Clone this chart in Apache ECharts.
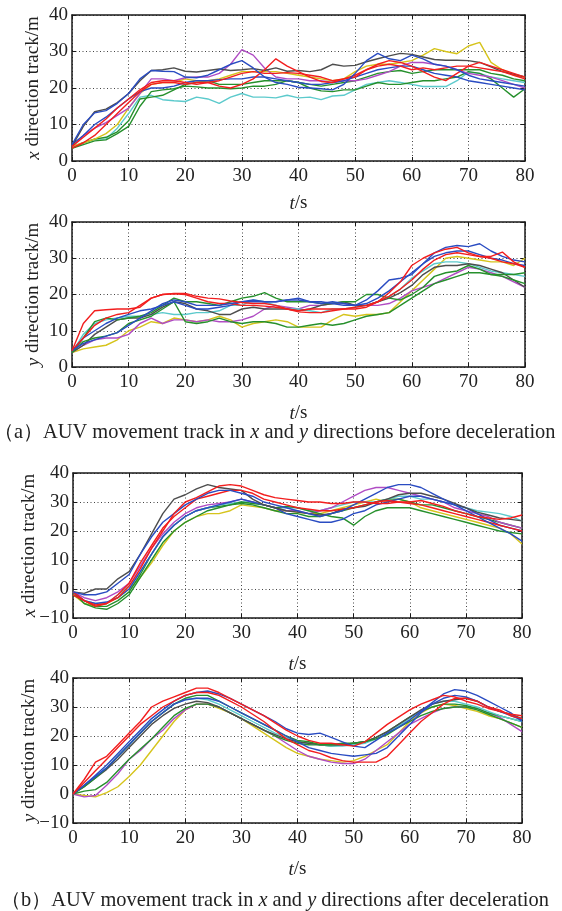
<!DOCTYPE html>
<html><head><meta charset="utf-8">
<script src="https://cdn.jsdelivr.net/npm/echarts@6/dist/echarts.min.js"></script>
<style>html,body{margin:0;padding:0;background:#fff}#c{width:562px;height:911px}</style>
</head><body><div id="c"></div>
<script>
// time samples (s)
const T = [0,2,4,6,8,10,12,14,16,18,20,22,24,26,28,30,32,34,36,38,40,42,44,46,48,50,52,54,56,58,60,62,64,66,68,70,72,74,76,78,80];
const xTicks = [0,10,20,30,40,50,60,70,80];
const yTicksTop = [0,10,20,30,40];
const yTicksBottom = [-10,0,10,20,30,40];

// ---- (a) x direction, before deceleration ----
const p1Gray = [4.0,9.5,13.5,14.2,16.0,18.5,22.0,24.8,25.0,25.5, 24.6,24.4,24.8,25.2,24.8,25.0,25.3,24.8,25.5,24.6, 24.8,24.5,25.0,26.5,26.0,26.2,27.2,28.0,28.8,29.5, 29.2,28.5,27.8,27.6,27.6,27.5,27.0,25.8,24.5,23.8, 23.0];
const p1Blue1 = [4.5,10.0,13.2,13.8,15.8,18.5,22.5,24.8,24.6,24.5, 23.0,22.8,23.5,25.0,26.5,27.5,25.5,23.0,21.5,21.0, 20.2,20.0,19.8,19.5,21.0,24.0,27.5,29.5,28.0,27.5, 29.0,28.0,26.5,26.0,25.0,23.5,22.5,22.0,21.5,21.0, 20.5];
const p1Magenta = [4.0,7.0,9.0,10.5,12.5,14.5,18.5,22.5,22.5,22.0, 22.8,23.0,23.0,24.0,26.5,30.5,29.0,25.5,23.0,22.5, 22.5,22.0,22.0,21.5,22.0,22.0,22.5,23.5,24.5,26.0, 27.0,27.0,26.5,26.0,25.0,24.0,23.5,23.0,22.0,21.0, 20.0];
const p1Red1 = [3.5,5.0,7.0,10.0,13.0,16.0,19.0,21.0,21.5,21.5, 21.0,21.5,21.5,20.5,20.0,21.0,22.5,25.0,28.0,26.0, 24.5,23.0,21.8,21.5,22.5,23.0,25.0,26.5,27.5,27.0, 26.0,24.5,23.0,22.0,24.0,26.0,27.0,26.0,25.0,24.0, 23.0];
const p1Red2 = [4.0,6.5,9.0,11.5,14.5,17.0,19.5,21.5,22.0,22.0, 21.5,21.0,21.5,22.0,23.0,24.0,24.5,24.0,24.0,24.2, 24.0,23.5,23.0,22.0,22.5,23.5,25.0,26.0,26.5,26.0, 25.0,25.5,25.0,25.5,26.0,26.0,25.5,25.0,24.5,23.5, 22.5];
const p1Yellow = [4.0,5.0,6.0,7.5,10.0,14.5,18.5,21.0,21.5,21.5, 22.5,22.0,22.0,22.5,23.5,24.5,24.5,24.5,24.5,24.0, 23.5,23.0,22.5,22.0,22.5,24.5,26.0,26.5,26.5,27.0, 27.5,29.0,30.8,30.0,29.4,31.5,32.5,27.0,25.0,23.5, 23.0];
const p1Cyan = [4.0,5.0,6.0,6.0,9.0,13.0,17.5,18.0,16.8,16.5, 16.3,17.5,17.0,15.8,17.5,18.5,17.5,17.5,17.3,18.0, 17.3,17.5,16.8,17.8,18.0,19.5,21.0,21.5,22.0,21.5, 21.0,20.4,20.4,20.4,22.0,24.3,24.0,23.0,22.5,22.0, 21.5];
const p1Green1 = [3.5,4.5,5.5,5.8,7.5,9.5,15.0,19.0,19.5,19.8, 20.5,20.3,20.0,20.0,19.8,20.0,20.5,20.5,21.0,22.0, 21.5,20.0,19.2,19.0,19.5,19.5,20.5,21.5,21.0,21.0, 21.5,22.0,22.0,22.5,23.0,24.5,24.0,22.5,20.0,17.5, 19.8];
const p1Green2 = [3.5,5.0,6.0,6.5,8.0,11.0,17.0,17.5,18.0,19.5, 21.0,21.5,22.0,21.0,21.0,21.0,21.5,22.0,22.0,22.0, 21.5,21.0,20.5,21.0,21.5,22.0,23.0,24.0,24.5,24.8, 24.0,24.5,25.0,25.0,25.0,25.0,25.0,24.0,23.5,22.5, 22.0];
const p1Blue2 = [4.5,7.0,10.0,12.0,14.5,17.0,19.0,20.0,20.0,20.5, 21.5,22.0,22.0,22.3,22.5,22.5,23.0,23.0,22.5,22.0, 21.5,21.0,21.0,21.5,22.0,23.0,24.0,25.0,25.5,26.0, 26.0,25.0,24.0,23.5,23.0,22.0,21.5,21.0,20.5,20.0, 19.5];

// ---- (a) y direction, before deceleration ----
const p2Red1 = [4.5,12.0,15.5,15.8,16.0,16.0,16.5,19.0,20.0,20.3, 20.3,19.5,19.0,18.8,18.2,17.8,17.5,17.5,17.0,16.0, 15.2,15.0,15.0,15.5,16.0,16.0,16.5,18.0,20.5,23.5, 28.0,30.0,31.5,32.5,33.0,31.5,30.5,30.5,31.7,29.0, 27.5];
const p2Red2 = [4.5,8.0,11.5,13.5,14.5,15.0,17.0,19.0,20.0,20.2, 20.0,19.0,18.0,17.5,17.5,17.0,17.0,16.8,16.5,16.0, 15.5,16.0,16.0,16.0,16.0,16.5,17.0,18.0,19.5,21.5, 24.0,27.0,29.5,31.0,31.5,31.0,30.5,30.0,29.0,28.5, 27.5];
const p2Blue1 = [4.5,6.5,7.5,8.5,9.5,11.5,13.5,15.5,17.5,18.5, 18.0,17.0,17.0,17.0,17.5,18.0,18.5,18.0,18.0,18.5, 19.0,18.0,17.5,18.0,17.5,17.0,18.5,21.0,24.0,24.5, 25.5,28.5,31.5,33.0,33.5,33.2,34.0,32.0,30.5,29.5, 29.0];
const p2Blue2 = [4.5,8.0,10.0,12.0,13.5,14.5,15.5,16.0,17.0,18.0, 17.0,16.0,16.0,16.5,17.0,18.0,18.0,18.0,18.0,18.5, 18.5,18.0,18.0,17.5,17.0,17.0,17.5,19.0,21.0,23.5, 26.0,28.5,30.5,31.5,32.0,32.0,31.0,30.0,29.5,28.5, 28.0];
const p2Gray = [4.0,6.0,9.0,11.0,13.0,13.5,13.5,14.5,16.5,18.0, 17.5,16.0,15.5,14.5,14.5,16.0,16.5,16.0,16.0,16.0, 15.5,16.0,17.0,17.5,18.0,17.0,17.0,18.0,19.0,20.5, 22.5,25.5,27.5,28.0,28.0,28.5,28.0,27.0,26.0,24.0, 22.0];
const p2Cyan = [4.0,9.0,12.0,13.0,13.5,14.0,14.0,14.5,15.0,14.5, 14.5,15.0,15.0,15.5,17.0,17.0,18.5,18.0,17.0,16.0, 16.0,15.5,15.0,16.0,16.0,16.5,17.0,18.0,19.5,21.5, 24.5,26.5,28.5,29.0,29.0,28.5,27.5,26.5,26.0,25.5, 25.0];
const p2Green1 = [4.0,8.0,12.5,13.5,13.0,13.5,14.0,15.0,17.0,19.0, 18.0,18.0,17.5,17.0,18.0,19.0,19.5,20.5,19.0,18.0, 18.0,18.0,17.5,17.5,18.0,18.0,20.0,20.0,19.0,18.5, 20.0,22.0,25.0,26.0,26.5,28.0,27.0,25.5,25.0,24.0, 23.0];
const p2Green2 = [4.0,7.0,8.0,8.5,9.5,12.0,13.0,14.0,16.0,18.0, 12.5,12.0,12.5,13.5,12.5,12.0,12.5,12.5,12.0,11.0, 11.0,11.5,12.0,11.5,12.0,13.0,14.0,14.5,15.0,17.0, 19.0,21.0,23.0,24.0,25.0,26.0,26.0,25.5,25.5,25.5, 26.0];
const p2Magenta = [4.0,6.0,7.5,8.0,8.0,9.0,12.0,13.5,12.0,13.0, 13.0,12.5,13.0,12.5,12.5,13.0,14.0,16.0,17.0,16.5, 16.0,17.0,17.0,17.5,17.5,17.0,17.0,17.0,17.5,19.0, 21.0,22.0,23.0,24.5,26.0,27.5,27.0,26.0,25.0,23.5, 22.0];
const p2Yellow = [4.0,5.0,5.5,6.0,7.5,10.0,11.0,12.5,12.0,13.5, 13.0,12.5,13.0,14.0,13.0,11.0,12.0,12.5,13.0,12.5, 11.0,11.0,11.0,13.0,14.5,14.0,14.5,14.5,15.0,18.0, 21.0,24.0,27.0,30.0,30.5,30.0,29.5,29.0,29.0,28.0, 30.0];

// ---- (b) x direction, after deceleration ----
const p3Gray = [-1.0,-1.5,0.0,0.0,3.5,6.0,12.0,19.0,26.0,31.0, 32.5,34.5,36.0,35.0,34.5,34.0,31.0,29.0,28.0,27.0, 26.5,26.0,25.5,26.0,27.5,28.0,28.5,30.0,31.0,32.5, 33.0,33.0,32.0,31.0,29.5,28.0,26.5,25.5,24.5,24.0, 23.5];
const p3Red1 = [-2.0,-4.0,-5.5,-5.0,-3.0,1.0,7.0,14.0,20.0,26.0, 30.0,31.5,33.5,35.5,36.0,35.5,34.0,32.5,31.5,31.0, 30.5,30.0,30.0,29.5,29.5,30.0,30.0,29.5,29.5,30.0, 30.0,30.5,29.5,28.5,27.0,26.0,25.0,24.5,24.0,24.5, 25.5];
const p3Red2 = [-1.0,-4.0,-6.0,-5.0,-2.0,2.0,9.0,15.0,21.0,25.0, 28.0,31.0,32.0,33.0,34.0,34.0,33.0,31.0,30.0,29.0, 28.0,27.5,27.0,27.0,27.5,28.0,29.0,30.0,30.5,30.0, 29.5,29.0,28.0,27.0,26.0,25.0,24.0,23.0,22.0,21.0, 20.0];
const p3Blue1 = [-1.0,-2.0,-2.0,-1.0,2.0,5.0,12.0,18.0,23.0,26.0, 29.0,31.0,33.0,34.0,34.0,33.0,32.0,30.0,29.0,28.0, 27.0,26.0,25.0,26.0,27.0,29.0,31.0,33.0,35.0,36.0, 36.0,35.0,33.0,31.0,29.0,27.0,25.0,23.0,21.0,19.0, 16.5];
const p3Blue2 = [-1.0,-4.0,-5.0,-4.5,-3.0,0.0,6.0,12.0,18.0,22.0, 25.0,27.0,28.0,29.0,30.0,31.0,30.0,29.0,28.0,26.0, 25.0,24.0,23.0,23.0,24.0,26.0,27.0,29.0,30.0,31.0, 32.0,32.0,31.0,30.0,29.0,28.0,26.0,24.0,22.0,21.0, 20.0];
const p3Magenta = [-1.0,-3.0,-4.0,-3.0,-1.0,2.0,8.0,14.0,19.0,23.0, 26.0,28.0,29.0,29.5,30.0,31.0,30.0,29.0,28.0,27.0, 27.0,26.0,27.0,28.0,30.0,32.0,34.0,35.0,35.0,34.0, 33.0,32.0,31.0,30.0,28.0,27.0,26.0,25.0,23.0,22.0, 21.0];
const p3Cyan = [-1.0,-4.0,-5.0,-5.0,-2.0,1.0,6.0,12.0,18.0,22.0, 25.0,27.0,28.0,29.0,29.5,30.0,30.0,29.0,28.0,28.0, 28.0,27.0,27.0,28.0,29.0,30.0,30.0,30.0,31.0,32.0, 32.0,31.0,31.0,30.0,29.0,28.0,27.0,26.5,26.0,25.0, 23.5];
const p3Green1 = [-1.0,-5.0,-6.5,-7.0,-5.0,-2.0,4.0,10.0,16.0,20.0, 23.0,25.0,27.0,28.0,29.0,30.0,29.5,29.0,28.0,28.5, 28.0,27.0,26.0,25.0,24.5,22.0,25.0,27.0,28.0,28.0, 28.0,27.0,26.0,25.0,24.0,23.0,22.0,21.0,20.0,19.5, 19.0];
const p3Green2 = [-2.0,-4.0,-6.0,-6.0,-4.0,-1.0,5.0,12.0,18.0,22.0, 25.0,27.0,28.0,28.5,29.0,29.5,29.0,28.0,27.0,26.0, 26.0,25.0,25.0,26.0,27.0,28.0,29.0,30.0,31.0,31.0, 30.0,29.0,29.0,28.0,27.0,26.0,25.0,24.0,23.0,22.0, 21.0];
const p3Yellow = [-2.0,-5.0,-6.0,-5.0,-3.0,0.0,4.0,9.0,15.0,20.0, 23.0,25.0,26.0,26.0,27.0,29.0,28.5,28.0,27.0,27.0, 26.5,26.0,26.0,27.0,28.0,29.0,30.0,31.0,30.0,31.0, 30.0,28.0,27.0,26.0,25.0,24.0,23.0,22.0,21.0,19.0, 15.5];

// ---- (b) y direction, after deceleration ----
const p4Red1 = [0.0,5.0,11.0,13.0,17.0,21.0,25.0,30.0,32.0,33.5, 35.0,36.5,36.5,35.0,33.0,31.0,29.0,27.0,24.5,22.0, 20.0,18.5,17.5,17.5,17.0,16.5,18.0,21.0,24.0,26.5, 29.0,31.0,32.5,34.0,33.5,32.0,31.0,29.5,28.5,27.5, 27.0];
const p4Red2 = [0.0,4.0,8.0,12.0,16.0,20.0,24.0,27.0,30.0,32.0, 34.0,35.0,35.0,34.0,32.0,30.0,27.5,25.0,22.0,19.0, 17.0,15.0,14.0,12.5,11.5,11.0,11.0,11.0,13.0,17.0, 21.0,25.0,28.0,31.0,33.0,33.0,32.0,30.0,29.0,27.0, 26.0];
const p4Blue1 = [0.0,3.0,6.5,10.0,14.0,18.0,22.0,26.0,29.0,32.0, 34.0,35.0,35.5,34.5,33.0,31.0,29.0,27.0,25.0,22.5, 21.0,20.5,21.0,19.5,18.0,16.5,16.0,18.5,21.0,23.0, 25.5,28.5,31.5,34.5,36.0,35.5,34.0,32.0,30.0,28.0, 25.0];
const p4Blue2 = [0.0,3.0,6.0,9.0,13.0,17.0,21.0,25.0,28.0,31.0, 32.5,33.0,33.0,32.0,30.0,28.0,26.0,24.0,22.0,20.0, 18.0,16.0,15.0,14.0,13.5,13.0,13.5,14.0,16.0,20.0, 24.0,28.0,31.0,33.0,34.0,33.5,32.0,30.0,28.5,27.0, 25.5];
const p4Magenta = [0.0,-1.0,-0.5,3.0,7.0,12.0,15.0,19.0,22.0,26.0, 29.0,31.0,31.0,30.0,28.0,26.0,24.0,22.0,20.0,17.5, 15.0,13.0,12.0,11.0,10.5,10.5,12.0,15.0,18.0,21.0, 24.0,26.0,28.0,29.5,30.0,30.0,29.5,28.0,26.5,24.0, 21.5];
const p4Yellow = [0.0,-0.5,-1.0,0.5,2.5,6.0,10.0,15.0,20.0,25.0, 29.0,31.0,31.0,29.5,28.0,26.0,23.5,21.0,18.5,16.0, 14.0,13.0,12.0,11.5,11.0,11.5,13.0,15.0,17.0,21.0, 25.0,28.0,30.0,31.0,30.5,29.5,28.5,27.0,26.0,24.5, 23.0];
const p4Cyan = [0.0,3.0,6.0,9.0,13.0,17.0,21.0,25.0,28.0,31.0, 32.5,33.0,32.5,31.0,29.0,27.0,25.0,23.0,21.0,19.5, 18.0,17.5,17.0,16.5,16.5,17.0,17.5,19.0,21.0,23.5, 26.0,28.5,31.0,32.0,32.0,31.0,30.0,28.5,27.0,26.0, 25.0];
const p4Gray = [0.0,2.5,5.5,8.5,12.0,16.0,20.0,24.0,27.0,29.5, 31.0,32.0,31.5,30.0,28.0,26.0,24.0,22.0,20.5,19.0, 18.0,17.5,17.0,17.0,17.0,17.5,18.0,19.5,21.5,24.0, 26.5,29.0,31.0,32.0,32.5,33.0,32.0,30.0,28.5,27.5, 26.0];
const p4Green1 = [0.0,2.5,5.5,9.0,13.0,17.0,21.0,25.0,28.0,31.0, 33.0,34.0,34.0,32.0,30.0,28.0,26.0,24.0,22.0,20.0, 18.5,18.0,17.0,17.0,17.5,17.5,18.0,19.0,20.5,23.0, 25.0,27.0,28.5,29.5,30.0,30.0,29.0,27.5,26.0,24.5, 23.0];
const p4Green2 = [0.0,1.0,1.5,4.0,8.0,12.0,15.5,19.0,23.0,27.0, 29.5,31.0,31.0,30.0,28.0,26.0,24.0,22.0,20.0,18.5, 17.5,17.0,17.0,16.5,17.0,17.5,18.0,19.5,21.5,24.0, 26.5,28.5,30.0,31.0,31.0,30.5,29.5,28.0,27.0,26.0, 25.0];

const captionA = '（a）AUV movement track in {i|x} and {i|y} directions before deceleration';
const captionB = '（b）AUV movement track in {i|x} and {i|y} directions after deceleration';

// ---------- styling & layout ----------
const COL = {gray:'#4d4d4d', blue:'#2a4cc2', red:'#f21e1e', magenta:'#b04cc4', yellow:'#d6c41c', cyan:'#5ccacc', green:'#26902c'};
const FONT = "'Liberation Serif','Times New Roman',serif";
const INK = '#222';

const panels = [
  {grid:{left:72, top:15, width:453, height:146}, yTicks:yTicksTop, yName:'{i|x} direction track/m', yGap:29, xGap:33,
   lines:[['cyan',p1Cyan],['green',p1Green1],['green',p1Green2],['yellow',p1Yellow],['magenta',p1Magenta],['blue',p1Blue2],['gray',p1Gray],['red',p1Red2],['red',p1Red1],['blue',p1Blue1]]},
  {grid:{left:72, top:222, width:453, height:145}, yTicks:yTicksTop, yName:'{i|y} direction track/m', yGap:29, xGap:37,
   lines:[['yellow',p2Yellow],['magenta',p2Magenta],['cyan',p2Cyan],['gray',p2Gray],['green',p2Green2],['green',p2Green1],['blue',p2Blue2],['red',p2Red2],['blue',p2Blue1],['red',p2Red1]]},
  {grid:{left:73, top:473, width:449, height:145}, yTicks:yTicksBottom, yName:'{i|x} direction track/m', yGap:34, xGap:37,
   lines:[['yellow',p3Yellow],['green',p3Green2],['cyan',p3Cyan],['magenta',p3Magenta],['green',p3Green1],['blue',p3Blue2],['gray',p3Gray],['red',p3Red2],['blue',p3Blue1],['red',p3Red1]]},
  {grid:{left:73, top:678, width:449, height:145}, yTicks:yTicksBottom, yName:'{i|y} direction track/m', yGap:34, xGap:37,
   lines:[['yellow',p4Yellow],['magenta',p4Magenta],['green',p4Green2],['cyan',p4Cyan],['gray',p4Gray],['green',p4Green1],['blue',p4Blue2],['blue',p4Blue1],['red',p4Red2],['red',p4Red1]]}
];

const richI = {i:{fontStyle:'italic', fontFamily:FONT, fontSize:19, color:INK}};
const richC = {i:{fontStyle:'italic', fontFamily:FONT, fontSize:20.4, color:INK}};
const axisLine = {show:true, onZero:false, lineStyle:{color:'#1a1a1a', width:1.5}};
const axisTick = {show:true, inside:true, length:4, lineStyle:{color:'#1a1a1a', width:1}};
const split = {show:true, lineStyle:{color:'#444', width:1, type:[1,2.5]}};
const fmt = v => String(v).replace('-', '\u2212');

const grids=[], xAxes=[], yAxes=[], series=[];
panels.forEach((p,i)=>{
  grids.push(Object.assign({}, p.grid));
  const ymax = p.yTicks[p.yTicks.length-1];
  xAxes.push({gridIndex:i, type:'value', min:xTicks[0], max:xTicks[xTicks.length-1], interval:10,
    name:'{i|t}/s', nameLocation:'middle', nameGap:p.xGap,
    nameTextStyle:{fontFamily:FONT, fontSize:19, color:INK, rich:richI},
    axisLine, axisTick, axisLabel:{fontFamily:FONT, fontSize:19, color:INK, margin:6}, splitLine:split});
  xAxes.push({gridIndex:i, type:'value', position:'top', min:xTicks[0], max:xTicks[xTicks.length-1], interval:10,
    axisLine, axisTick, axisLabel:{show:false}, splitLine:{show:false}});
  yAxes.push({gridIndex:i, type:'value', min:p.yTicks[0], max:ymax, interval:10,
    name:p.yName, nameLocation:'middle', nameGap:p.yGap, nameRotate:90, nameMoveOverlap:false,
    nameTextStyle:{fontFamily:FONT, fontSize:19, color:INK, rich:richI},
    axisLine, axisTick, axisLabel:{fontFamily:FONT, fontSize:19, color:INK, margin:4, formatter:fmt}, splitLine:split});
  yAxes.push({gridIndex:i, type:'value', position:'right', min:p.yTicks[0], max:ymax, interval:10,
    axisLine, axisTick, axisLabel:{show:false}, splitLine:{show:false}});
  p.lines.forEach(([c,arr])=>{
    series.push({type:'line', xAxisIndex:2*i, yAxisIndex:2*i, data:T.map((t,k)=>[t,arr[k]]),
      showSymbol:false, symbol:'none', silent:true, animation:false,
      lineStyle:{color:COL[c], width:1.4}, itemStyle:{color:COL[c]}});
  });
});

const capStyle = {fontFamily:FONT, fontSize:20.4, fontWeight:'normal', color:INK, rich:richC};
const chart = echarts.init(document.getElementById('c'), null, {renderer:'canvas'});
chart.setOption({
  animation:false,
  backgroundColor:'#fff',
  title:[
    {text:captionA, left:-11, top:418, textStyle:capStyle},
    {text:captionB, left:-4, top:886, textStyle:capStyle}
  ],
  grid:grids, xAxis:xAxes, yAxis:yAxes, series
});
</script></body></html>
